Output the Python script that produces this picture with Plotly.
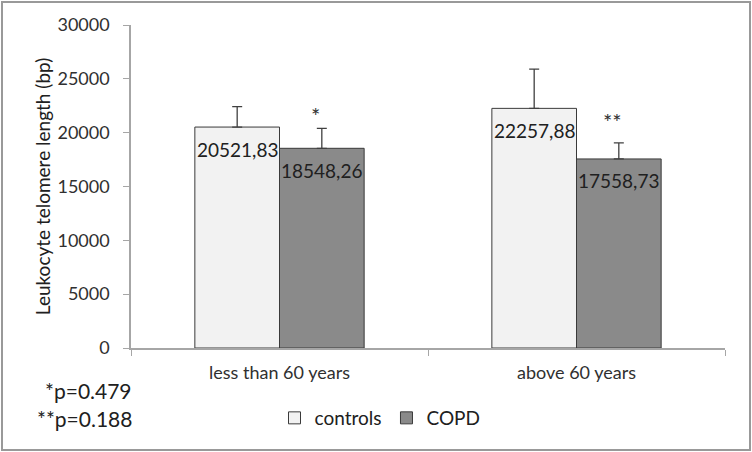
import plotly.graph_objects as go

categories = ["less than 60 years", "above 60 years"]
controls = [20521.83, 22257.88]
copd = [18548.26, 17558.73]
controls_err = [1900, 3650]
copd_err = [1850, 1500]
controls_labels = ["20521,83", "22257,88"]
copd_labels = ["18548,26", "17558,73"]
sig_marks = ["*", "**"]
y_ticks = [0, 5000, 10000, 15000, 20000, 25000, 30000]
y_ticktext = ["0", "5000", "10000", "15000", "20000", "25000", "30000"]

FONT = "Lato"
W, H = 752, 452
L, R, T, B = 131, 27, 25, 104
pw, ph = W - L - R, H - T - B
BARGAP = 0.43
half = (1 - BARGAP) / 4  # offset of each bar centre from category centre

def px_x(x):
    return (x - L) / pw

def px_y(y):
    return (H - B - y) / ph

fig = go.Figure()
fig.add_trace(go.Bar(
    name="controls", x=categories, y=controls,
    marker=dict(color="#f2f2f2", line=dict(color="#3a3a3a", width=1)),
    error_y=dict(type="data", array=controls_err, arrayminus=[0, 0], symmetric=False,
                 color="#404040", thickness=1.3, width=5),
))
fig.add_trace(go.Bar(
    name="COPD", x=categories, y=copd,
    marker=dict(color="#8a8a8a", line=dict(color="#3a3a3a", width=1)),
    error_y=dict(type="data", array=copd_err, arrayminus=[0, 0], symmetric=False,
                 color="#404040", thickness=1.3, width=5),
))

# value labels inside bar tops
for i in range(len(categories)):
    fig.add_annotation(x=i - half, y=controls[i], xref="x", yref="y", text=controls_labels[i],
                       showarrow=False, yanchor="middle", yshift=-22,
                       font=dict(family=FONT, size=19, color="#202020"))
    fig.add_annotation(x=i + half, y=copd[i], xref="x", yref="y", text=copd_labels[i],
                       showarrow=False, yanchor="middle", yshift=-22,
                       font=dict(family=FONT, size=19, color="#202020"))

# significance stars above COPD bars
star_shift = [-3, 6]
for i, (v, e, m) in enumerate(zip(copd, copd_err, sig_marks)):
    fig.add_annotation(x=i + 0.12, y=v + e, xref="x", yref="y", text=m,
                       showarrow=False, yanchor="bottom", yshift=star_shift[i],
                       font=dict(family=FONT, size=22, color="#303030"))

fig.add_annotation(x=px_x(134), y=px_y(390), xref="paper", yref="paper",
                   text="*p=0.479", showarrow=False, xanchor="right", yanchor="middle",
                   font=dict(family=FONT, size=21, color="#202020"))
fig.add_annotation(x=px_x(134), y=px_y(418), xref="paper", yref="paper",
                   text="**p=0.188", showarrow=False, xanchor="right", yanchor="middle",
                   font=dict(family=FONT, size=21, color="#202020"))

# outer border
fig.add_shape(type="rect", xref="paper", yref="paper",
              x0=px_x(2), x1=px_x(750), y0=px_y(450), y1=px_y(2),
              line=dict(color="#999999", width=2), fillcolor="rgba(0,0,0,0)", layer="below")

fig.update_layout(
    width=W, height=H,
    margin=dict(l=L, r=R, t=T, b=B),
    paper_bgcolor="white", plot_bgcolor="white",
    barmode="group", bargap=BARGAP, bargroupgap=0,
    font=dict(family=FONT, size=18, color="#303030"),
    showlegend=True,
    legend=dict(orientation="h", x=px_x(380), xanchor="center", y=px_y(418), yanchor="middle",
                font=dict(family=FONT, size=19, color="#202020"),
                itemwidth=30, bgcolor="rgba(0,0,0,0)"),
    xaxis=dict(showline=True, linecolor="#a6a6a6", linewidth=1.5,
               ticks="outside", tickson="boundaries", ticklen=6, tickcolor="#a6a6a6",
               ticklabelstandoff=8,
               tickfont=dict(family=FONT, size=18, color="#303030"),
               showgrid=False),
    yaxis=dict(range=[0, 30000], tickvals=y_ticks, ticktext=y_ticktext, showline=True,
               linecolor="#a6a6a6", linewidth=1.5, ticks="outside", ticklen=6,
               tickcolor="#a6a6a6", ticklabelstandoff=10,
               showgrid=False, zeroline=False,
               tickfont=dict(family=FONT, size=18, color="#303030"),
               title=dict(text="Leukocyte telomere length (bp)", standoff=2,
                          font=dict(family=FONT, size=19, color="#202020"))),
)

fig.write_html("out.html", config={"displayModeBar": False},
               post_script="document.body.style.margin='0';document.body.style.overflow='hidden';")
